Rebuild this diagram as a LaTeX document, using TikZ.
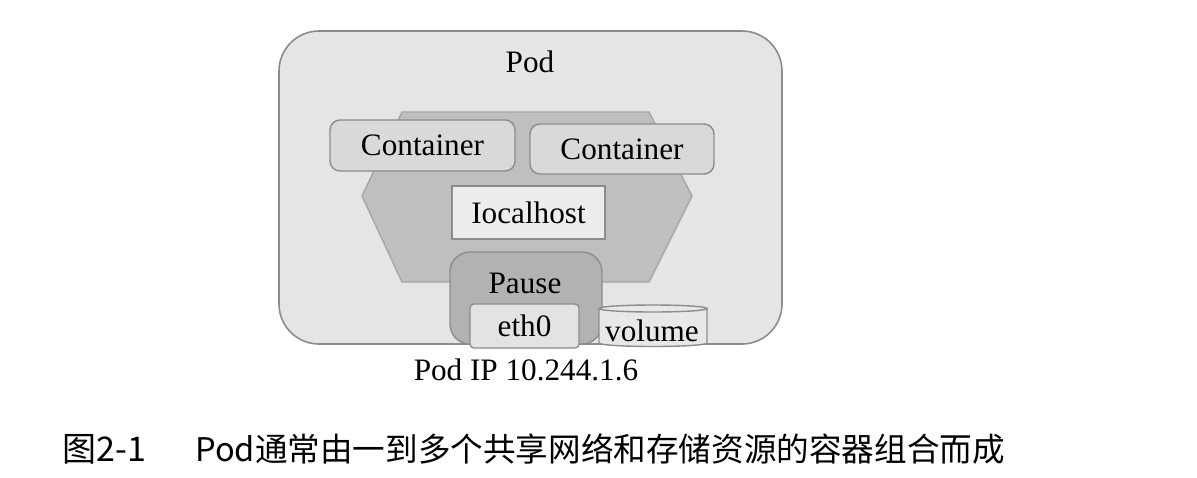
\documentclass[tikz,border=0pt]{standalone}
\usepackage{fontspec}
\setmainfont{Liberation Serif}
\newfontfamily\cjk{Noto Sans CJK SC}
\begin{document}
\begin{tikzpicture}[x=0.5pt,y=-0.5pt,
  txt/.style={inner sep=0pt, font=\fontsize{15.6pt}{18pt}\selectfont},
  podbox/.style={draw=black!45, fill=black!10, line width=0.8pt, rounded corners=20pt},
  hexa/.style={draw=black!35, fill=black!25, line width=0.7pt},
  ctbox/.style={txt, draw=black!45, fill=black!15, line width=0.7pt, rounded corners=5pt},
  lobox/.style={txt, draw=black!45, fill=black!7, line width=0.7pt},
  pausebox/.style={draw=black!45, fill=black!30, line width=0.7pt, rounded corners=10pt},
  ethbox/.style={txt, draw=black!45, fill=black!11, line width=0.7pt, rounded corners=2pt},
  cyl/.style={draw=black!45, fill=black!9, line width=0.7pt},
  captxt/.style={inner sep=0pt, anchor=west}]

\newcommand\U{0.5pt}

\useasboundingbox (0,0) rectangle (1197,477);

\node[podbox, minimum width=503*\U, minimum height=313*\U] (pod) at (530.5,187.5) {};
\node[txt] (podtitle) at (530,62) {Pod};
%%

\draw[hexa] (402,112) -- (649,112) -- (692,196) -- (649,282) -- (402,282) -- (362,196) -- cycle;

\node[ctbox, minimum width=185*\U, minimum height=51*\U] (ctA) at (422.5,145.5) {Container};
\node[ctbox, minimum width=184*\U, minimum height=50*\U] (ctB) at (622,149) {Container};
\node[lobox, minimum width=153*\U, minimum height=53*\U] (lo) at (528.5,212.5) {Iocalhost};
%%

\node[pausebox, minimum width=152*\U, minimum height=92*\U] (pause) at (526,298) {};
\node[txt] (pausetext) at (525,283) {Pause};
\node[ethbox, minimum width=109*\U, minimum height=44*\U] (eth) at (524.5,326) {eth0};

\draw[cyl] (599,308.5) -- (599,343) arc[start angle=180, end angle=0, x radius=54, y radius=3.5] -- (707,308.5);
\draw[cyl] (653,308.5) ellipse[x radius=54, y radius=3.5];
\node[txt] (volume) at (652,331) {volume};
%%

\node[txt, anchor=base] (podip) at (526,380) {Pod IP 10.244.1.6};

\node[captxt, font=\cjk\fontsize{17pt}{20pt}\selectfont] (fignum) at (62,449) {图2-1};
\node[captxt, font=\cjk\fontsize{16.3pt}{20pt}\selectfont] (caption) at (195,449) {Pod通常由一到多个共享网络和存储资源的容器组合而成};

\end{tikzpicture}
\end{document}
